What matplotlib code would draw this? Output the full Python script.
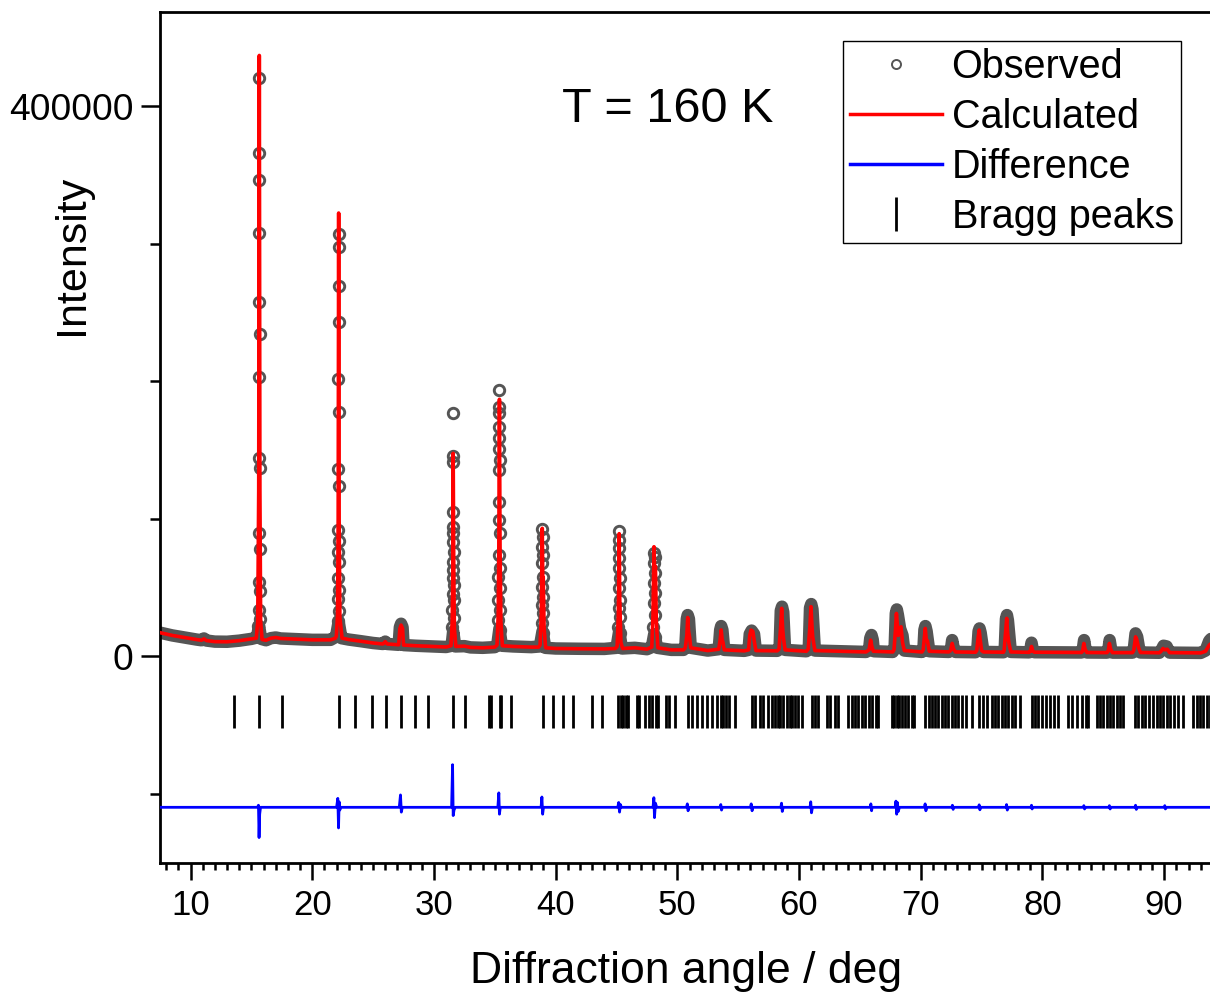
"""Rietveld plot, T = 160 K (observed / calculated / difference / Bragg peaks)."""
import matplotlib

matplotlib.use("Agg")
import matplotlib.pyplot as plt
from matplotlib.lines import Line2D
import numpy as np

plt.rcParams["font.family"] = ["Liberation Sans", "DejaVu Sans"]

# ── data (2theta in deg, intensity in counts) ───────────────────────────────
# calculated profile (red line)
calc_pts = [
    (7.5, 17000), (8.5, 15000), (9.5, 13500), (10.5, 12000), (10.9, 11500), (11.1, 12500),
    (11.3, 11300), (12.0, 10500), (13.0, 10400), (14.0, 11200), (15.0, 12500),
    (15.40, 13000), (15.52, 25000), (15.60, 120000), (15.65, 436800), (15.70, 120000),
    (15.76, 25000), (15.88, 12000),
    (16.2, 11500), (16.6, 13000), (17.0, 13500), (17.4, 12800), (18.5, 12400), (20.0, 11800),
    (21.5, 11800), (21.9, 13000),
    (21.98, 14500), (22.08, 30000), (22.13, 100000), (22.17, 322200), (22.21, 100000),
    (22.27, 28000), (22.45, 13000),
    (23.0, 12000), (24.0, 10800), (25.0, 9500), (25.8, 8800), (26.0, 10500), (26.15, 8800),
    (27.1, 8200), (27.2, 20000), (27.3, 22500), (27.42, 20000), (27.5, 8000), (28.5, 7500),
    (30.0, 7000), (31.0, 6600),
    (31.40, 7500), (31.50, 25000), (31.55, 60000), (31.58, 147400), (31.63, 60000),
    (31.68, 20000), (31.80, 7000),
    (32.5, 7200), (33.0, 6300), (34.0, 6000), (35.0, 6500),
    (35.18, 8000), (35.28, 30000), (35.33, 80000), (35.38, 186700), (35.43, 80000),
    (35.50, 25000), (35.62, 7500),
    (36.5, 7000), (38.0, 6500), (38.6, 6500),
    (38.72, 8000), (38.82, 30000), (38.90, 92900), (38.95, 50000), (38.98, 57000),
    (39.05, 20000), (39.18, 6000),
    (40.0, 5500), (42.0, 5300), (44.0, 5200), (44.9, 5500),
    (45.05, 7000), (45.15, 30000), (45.22, 89000), (45.27, 40000), (45.30, 30000),
    (45.36, 10000), (45.50, 5500),
    (46.5, 6000), (47.5, 5000),
    (47.90, 6500), (48.00, 30000), (48.08, 79500), (48.14, 60000), (48.20, 65000),
    (48.27, 25000), (48.40, 6000),
    (49.5, 4500), (50.5, 4500),
    (50.65, 6000), (50.78, 15000), (50.85, 28000), (50.92, 18000), (51.0, 14000), (51.1, 6000),
    (52.5, 4000),
    (53.4, 5000), (53.52, 12000), (53.6, 19000), (53.68, 12000), (53.75, 10000), (53.85, 4500),
    (55.5, 3800),
    (55.85, 4500), (55.95, 15000), (56.05, 18900), (56.2, 18000), (56.3, 12000), (56.45, 4000),
    (58.2, 3800),
    (58.35, 5000), (58.48, 20000), (58.57, 34700), (58.65, 20000), (58.72, 13000), (58.85, 4500),
    (60.6, 3500),
    (60.75, 5000), (60.88, 20000), (60.98, 35900), (61.06, 22000), (61.12, 14000), (61.3, 4000),
    (65.5, 3000),
    (65.75, 4500), (65.88, 11600), (65.98, 7000), (66.1, 3500),
    (67.7, 3000),
    (67.8, 4500), (67.93, 20000), (68.0, 31000), (68.08, 22000), (68.15, 15000), (68.38, 21300),
    (68.5, 10000), (68.65, 4000),
    (70.1, 3000),
    (70.2, 4500), (70.3, 14000), (70.37, 20100), (70.45, 12000), (70.55, 11000), (70.7, 3500),
    (72.3, 3000),
    (72.45, 4000), (72.58, 9200), (72.7, 5000), (72.85, 3000),
    (74.5, 2800),
    (74.6, 4000), (74.72, 14000), (74.8, 18900), (74.88, 12000), (75.0, 4000), (75.15, 3000),
    (76.8, 2800),
    (76.85, 4000), (76.98, 18000), (77.06, 27400), (77.14, 16000), (77.25, 9000), (77.4, 3000),
    (78.9, 2700),
    (79.0, 3500), (79.1, 7000), (79.2, 3500), (79.35, 2800),
    (83.2, 2600),
    (83.3, 3500), (83.4, 9200), (83.5, 5000), (83.65, 2600),
    (85.3, 2500),
    (85.4, 3500), (85.5, 9200), (85.6, 5000), (85.75, 2500),
    (87.4, 2500),
    (87.5, 4000), (87.65, 14000), (87.75, 12000), (87.9, 6000), (88.05, 2600),
    (89.6, 2400),
    (89.75, 3500), (89.9, 5500), (90.05, 4500), (90.25, 5000), (90.45, 2500),
    (93.0, 2300), (93.4, 3500), (93.7, 8000), (94.0, 10000),
]

# observed data, dense part (background + small peaks: merges into a grey band)
obs_band_pts = [
    (7.5, 17000), (8.5, 15000), (9.5, 13500), (10.5, 12000), (10.9, 11500), (11.1, 12800),
    (11.3, 11300), (12.0, 10500), (13.0, 10400), (14.0, 11200), (15.0, 12500), (15.45, 13500),
    (15.63, 22000), (15.8, 12500), (16.2, 11500), (16.6, 13000), (17.0, 13500), (17.4, 12800),
    (18.5, 12400), (20.0, 11800), (21.5, 11800), (21.95, 14000), (22.17, 25000), (22.4, 13000),
    (23.0, 12000), (24.0, 10800), (25.0, 9500), (25.8, 8800), (26.0, 10500), (26.15, 8800),
    (27.1, 8200), (27.2, 21000), (27.3, 23500), (27.42, 21000), (27.5, 8000), (28.5, 7500),
    (30.0, 7000), (31.0, 6600), (31.45, 7500), (31.58, 18000), (31.75, 7000), (32.5, 7200),
    (33.0, 6300), (34.0, 6000), (35.0, 6500), (35.2, 8000), (35.38, 20000), (35.58, 7500),
    (36.5, 7000), (38.0, 6500), (38.7, 7000), (38.92, 18000), (39.15, 6000), (40.0, 5500),
    (42.0, 5300), (44.0, 5200), (45.0, 6000), (45.22, 18000), (45.45, 5500), (46.5, 6000),
    (47.5, 5000), (47.9, 6500), (48.1, 16000), (48.35, 6000), (49.5, 4500), (50.5, 4500),
    (50.65, 6000), (50.78, 27000), (50.85, 29800), (50.95, 27000), (51.1, 6000), (52.5, 4000),
    (53.4, 5000), (53.52, 19000), (53.6, 21800), (53.7, 19000), (53.85, 4500), (55.5, 3800),
    (55.85, 4500), (55.95, 16000), (56.1, 18500), (56.3, 16000), (56.45, 4000), (58.2, 3800),
    (58.4, 5000), (58.5, 33000), (58.6, 35900), (58.7, 32000), (58.85, 4500), (60.6, 3500),
    (60.8, 5000), (60.9, 35000), (61.0, 37800), (61.1, 34000), (61.3, 4000), (65.5, 3000),
    (65.75, 4500), (65.85, 13000), (65.95, 15300), (66.05, 12000), (66.15, 3500), (67.7, 3000),
    (67.85, 5000), (67.95, 31000), (68.03, 33900), (68.12, 30000), (68.3, 20000), (68.5, 15000),
    (68.65, 4000), (70.1, 3000), (70.22, 5000), (70.3, 19000), (70.38, 21800), (70.48, 18000),
    (70.7, 3500), (72.3, 3000), (72.48, 5000), (72.58, 11600), (72.72, 5000), (72.85, 3000),
    (74.5, 2800), (74.65, 5000), (74.75, 18000), (74.83, 20100), (74.92, 17000), (75.15, 3000),
    (76.8, 2800), (76.9, 5000), (77.0, 27000), (77.08, 29800), (77.16, 26000), (77.4, 3000),
    (78.9, 2700), (79.0, 4500), (79.1, 9700), (79.22, 4000), (79.35, 2800), (83.2, 2600),
    (83.3, 4000), (83.42, 11600), (83.55, 4500), (83.65, 2600), (85.3, 2500), (85.4, 4000),
    (85.52, 11600), (85.65, 4500), (85.75, 2500), (87.4, 2500), (87.5, 4500), (87.65, 16500),
    (87.78, 14000), (87.95, 5000), (88.05, 2600), (89.6, 2400), (89.75, 4000), (89.95, 7500),
    (90.2, 7000), (90.45, 2500), (93.0, 2300), (93.4, 4000), (93.7, 11000), (94.0, 14000),
]

# observed data points on the strong peaks (single visible circles)
obs_peak_x = [
    15.66, 15.64, 15.64, 15.64, 15.62, 15.68, 15.62, 15.63, 15.68, 15.61, 15.69, 15.60,
    15.70, 15.59, 15.71, 15.58,
    22.17, 22.18, 22.16, 22.17, 22.15, 22.18, 22.15, 22.18, 22.14, 22.19, 22.13, 22.20,
    22.12, 22.21, 22.11, 22.22, 22.10,
    31.58, 31.57, 31.60, 31.55, 31.56, 31.60, 31.54, 31.61, 31.55, 31.60, 31.54, 31.61,
    31.53, 31.62, 31.52, 31.63, 31.52,
    35.36, 35.35, 35.38, 35.33, 35.37, 35.34, 35.39, 35.33, 35.38, 35.32, 35.40, 35.31,
    35.41, 35.30, 35.42, 35.30, 35.43, 35.29, 35.44,
    38.90, 38.92, 38.88, 38.93, 38.87, 38.95, 38.86, 38.96, 38.85, 38.97, 38.84, 38.98,
    45.21, 45.23, 45.20, 45.24, 45.19, 45.25, 45.18, 45.26, 45.17, 45.27, 45.16, 45.28,
    48.06, 48.14, 48.08, 48.13, 48.05, 48.15, 48.04, 48.16, 48.03, 48.17,
]
obs_peak_y = [
    420400, 366100, 345900, 307800, 257200, 234200, 203300, 144000, 137100, 89200, 77700, 53700,
    47100, 33200, 26800, 21600,
    306900, 297700, 268800, 243300, 201800, 177500, 136000, 123900, 91500, 84000, 75900, 68700,
    57100, 48400, 41200, 32600, 25300,
    176500, 145500, 141300, 105000, 94000, 89200, 83100, 75800, 68600, 62500, 56500, 51600,
    45000, 40700, 33500, 27400, 21300,
    193500, 181300, 176500, 166800, 158300, 150500, 142500, 135300, 112200, 98900, 89200, 73500,
    63800, 57700, 49200, 40700, 33500, 26200, 18900,
    92100, 86800, 79500, 73500, 67400, 57700, 50400, 43100, 37100, 31100, 23800, 16500,
    90900, 84400, 78300, 71100, 63800, 56500, 49200, 40700, 34700, 28600, 21300, 16500,
    74700, 72000, 67400, 60100, 52900, 45600, 38300, 29800, 21300, 14000,
]

# difference curve (obs - calc)
diff_pts = [
    (7.5, 0), (15.5, 0), (15.58, 1500), (15.63, -22000), (15.68, -5000), (15.75, 0),
    (22.0, 0), (22.10, 6500), (22.16, -15000), (22.21, 4000), (22.26, -2000), (22.35, 0),
    (27.15, 0), (27.25, 9000), (27.32, -3500), (27.4, 0),
    (31.45, 0), (31.53, 31000), (31.58, -6000), (31.65, -2000), (31.75, 0),
    (35.25, 0), (35.33, 10500), (35.38, -5000), (35.45, 0),
    (38.8, 0), (38.87, 7500), (38.93, -5000), (39.0, 0),
    (45.1, 0), (45.18, 3500), (45.25, -3500), (45.32, 2000), (45.4, 0),
    (48.0, 0), (48.07, 7000), (48.12, -7500), (48.2, 3000), (48.3, 0),
    (50.75, 0), (50.82, 2500), (50.88, -2500), (50.95, 0),
    (53.5, 0), (53.57, 2000), (53.63, -2000), (53.7, 0),
    (56.0, 0), (56.07, 2500), (56.14, -2500), (56.2, 0),
    (58.5, 0), (58.56, 3000), (58.62, -3000), (58.7, 0),
    (60.9, 0), (60.96, 4000), (61.02, -4000), (61.1, 0),
    (65.85, 0), (65.9, 2500), (65.96, -2500), (66.0, 0),
    (67.9, 0), (67.96, 4500), (68.02, -5000), (68.08, 3500), (68.15, -3000), (68.25, 0),
    (70.3, 0), (70.36, 2500), (70.42, -2500), (70.5, 0),
    (72.55, 0), (72.6, 1500), (72.66, -1500), (72.7, 0),
    (74.75, 0), (74.8, 1800), (74.86, -1800), (74.9, 0),
    (77.0, 0), (77.05, 2000), (77.11, -2000), (77.2, 0),
    (79.05, 0), (79.1, 1500), (79.15, -1200), (79.2, 0),
    (83.35, 0), (83.4, 1200), (83.46, -1200), (83.5, 0),
    (85.45, 0), (85.5, 1200), (85.56, -1200), (85.6, 0),
    (87.6, 0), (87.65, 1500), (87.71, -1500), (87.8, 0),
    (90.0, 0), (90.05, 1200), (90.1, -1200), (90.2, 0), (94.0, 0),
]

# calculated Bragg reflection positions
bragg_pos = [
    13.59, 15.64, 17.51, 22.22, 23.51, 24.91, 26.08, 27.32, 28.44, 29.54, 31.59, 32.58,
    34.55, 34.65, 35.43, 35.52, 36.33, 38.93, 39.80, 40.63, 41.45, 43.01, 43.83,
    45.15, 45.35, 45.55, 45.75, 45.97, 46.65, 46.87, 47.34, 47.67, 47.94, 48.22, 48.43,
    49.04, 49.31, 49.80,
    50.90, 51.17, 51.59, 51.99, 52.41, 52.82, 53.23, 53.58, 53.77, 53.97, 54.24, 54.73,
    56.11, 56.38, 56.79, 57.06, 57.47, 57.75, 58.02, 58.24, 58.46, 58.70, 58.98, 59.25,
    59.44, 59.66, 59.94, 60.21,
    61.04, 61.31, 61.58, 62.27, 62.54, 62.95, 63.22, 64.04, 64.32, 64.59, 64.86, 65.14, 65.41,
    65.74, 66.01, 66.29, 66.51,
    67.66, 67.83, 68.02, 68.21, 68.43, 68.70, 68.97, 69.25, 69.46,
    70.34, 70.67, 70.89, 71.16, 71.43, 71.72, 71.99, 72.26, 72.54, 72.81, 73.08, 73.36, 73.71,
    74.18, 74.78, 75.14, 75.42, 75.83, 76.10, 76.37, 76.65, 76.92, 77.19, 77.47, 77.74, 78.15,
    79.11, 79.38, 79.65, 79.93, 80.26, 80.61, 80.97, 81.30,
    82.12, 82.45, 82.81, 83.22, 83.55, 83.76,
    84.45, 84.72, 84.99, 85.27, 85.54, 85.81, 86.09, 86.36, 86.64,
    87.60, 87.87, 88.15, 88.42, 88.75, 89.11, 89.38, 89.66, 89.93, 90.21, 90.48, 90.83,
    91.16, 91.57, 92.39, 92.67, 92.94, 93.21, 93.49, 93.76,
]

legend_labels = ["Observed", "Calculated", "Difference", "Bragg peaks"]
x_major = [10, 20, 30, 40, 50, 60, 70, 80, 90]
y_major = [0, 400000]
y_minor = [-100000, 100000, 200000, 300000]

DIFF_OFFSET = -110000
BRAGG_LO, BRAGG_HI = -52000, -28000
GREY = "#555555"

# ── figure ──────────────────────────────────────────────────────────────────
W, H = 1210, 993
fig = plt.figure(figsize=(W / 100, H / 100), dpi=100)
ax = fig.add_axes([160 / W, 1 - 863 / H, (1212 - 160) / W, (863 - 12) / H])

cx, cy = zip(*calc_pts)
bx, by = zip(*obs_band_pts)
dx, dy = zip(*diff_pts)

ax.plot(bx, by, color=GREY, lw=9, solid_joinstyle="round", solid_capstyle="round", zorder=1)
ax.plot(obs_peak_x, obs_peak_y, ls="none", marker="o", ms=7.5, mfc="none", mec=GREY, mew=2.1,
        zorder=2)
ax.plot(cx, cy, color="red", lw=2.6, zorder=3)
ax.vlines(bragg_pos, BRAGG_LO, BRAGG_HI, color="black", lw=2, zorder=3)
ax.plot(dx, np.array(dy) + DIFF_OFFSET, color="blue", lw=2, zorder=3)

ax.set_xlim(7.49, 93.93)
ax.set_ylim(-150500, 468400)
ax.set_xticks(x_major)
ax.set_xticks(np.arange(8, 94, 1), minor=True)
ax.set_yticks(y_major)
ax.set_yticks(y_minor, minor=True)
ax.set_yticklabels([str(v) for v in y_major])

for s in ax.spines.values():
    s.set_linewidth(2)
ax.spines["right"].set_visible(False)
ax.tick_params(which="both", direction="out", width=1.8)
ax.tick_params(axis="x", which="major", length=12, pad=7, labelsize=25)
ax.tick_params(axis="x", which="minor", length=5)
ax.tick_params(axis="y", which="major", length=14, pad=5, labelsize=26.7)
ax.tick_params(axis="y", which="minor", length=7)

ax.set_xlabel("Diffraction angle / deg", fontsize=32)
ax.xaxis.set_label_coords(0.5, -0.1033)
fig.text(72 / W, 1 - 255 / H, "Intensity", rotation=90, fontsize=31, ha="center", va="center")

ax.text(0.483, 0.8707, "T = 160 K", fontsize=35, ha="center", va="baseline",
        transform=ax.transAxes)

handles = [
    Line2D([], [], ls="none", marker="o", ms=6.5, mfc="none", mec=GREY, mew=1.4),
    Line2D([], [], color="red", lw=2.5),
    Line2D([], [], color="blue", lw=2.5),
    Line2D([], [], ls="none", marker="|", ms=24, mec="black", mew=2),
]
leg = ax.legend(handles, legend_labels, loc="upper right", bbox_to_anchor=(0.9705, 0.9659),
                borderaxespad=0, fontsize=28.5, fancybox=False, framealpha=1, edgecolor="black",
                handlelength=2.32, handletextpad=0.25, labelspacing=0.3, borderpad=0.18)
leg.get_frame().set_linewidth(1.0)

fig.savefig("out.png", dpi=100)
print("saved: out.png")
